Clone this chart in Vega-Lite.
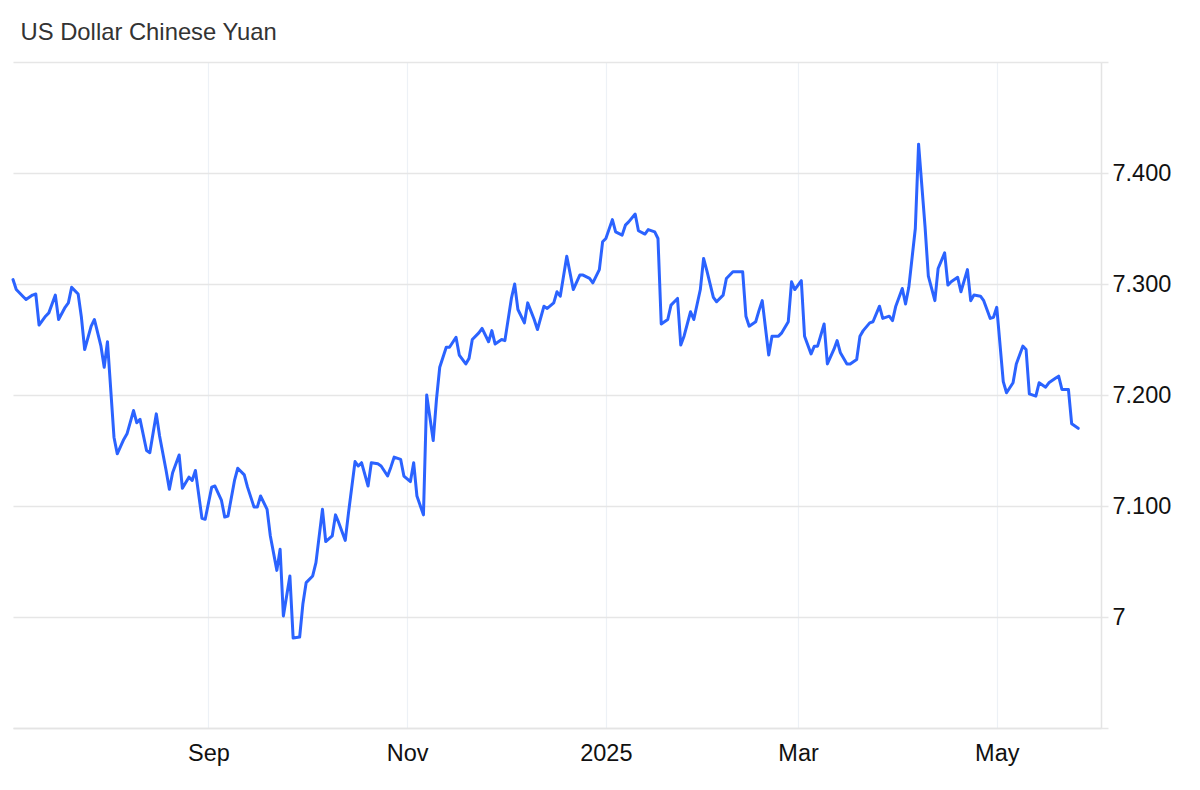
{
  "$schema": "https://vega.github.io/schema/vega-lite/v6.json",
  "width": 1088,
  "height": 666,
  "autosize": "none",
  "padding": {"top": 62, "left": 13, "right": 99, "bottom": 62},
  "background": "white",
  "title": {"text": "US Dollar Chinese Yuan", "anchor": "start", "dx": 9, "offset": 16, "fontSize": 23.8, "font": "Liberation Sans", "fontWeight": "normal", "color": "#333333"},
  "config": {"view": {"stroke": null}},
  "data": {"values": [
{"date":"2024-07-03","rate":7.304},{"date":"2024-07-04","rate":7.295},{"date":"2024-07-06","rate":7.289},{"date":"2024-07-07","rate":7.286},{"date":"2024-07-09","rate":7.290},{"date":"2024-07-10","rate":7.291},{"date":"2024-07-11","rate":7.263},{"date":"2024-07-13","rate":7.271},{"date":"2024-07-14","rate":7.274},{"date":"2024-07-16","rate":7.290},{"date":"2024-07-17","rate":7.268},{"date":"2024-07-19","rate":7.279},{"date":"2024-07-20","rate":7.283},{"date":"2024-07-21","rate":7.297},{"date":"2024-07-23","rate":7.291},{"date":"2024-07-24","rate":7.270},{"date":"2024-07-25","rate":7.241},{"date":"2024-07-27","rate":7.262},{"date":"2024-07-28","rate":7.268},{"date":"2024-07-30","rate":7.244},{"date":"2024-07-31","rate":7.225},
{"date":"2024-08-01","rate":7.248},{"date":"2024-08-03","rate":7.162},{"date":"2024-08-04","rate":7.147},{"date":"2024-08-06","rate":7.160},{"date":"2024-08-07","rate":7.165},{"date":"2024-08-09","rate":7.186},{"date":"2024-08-10","rate":7.175},{"date":"2024-08-11","rate":7.178},{"date":"2024-08-13","rate":7.150},{"date":"2024-08-14","rate":7.148},{"date":"2024-08-16","rate":7.183},{"date":"2024-08-17","rate":7.163},{"date":"2024-08-19","rate":7.132},{"date":"2024-08-20","rate":7.115},{"date":"2024-08-21","rate":7.130},{"date":"2024-08-23","rate":7.146},{"date":"2024-08-24","rate":7.116},{"date":"2024-08-26","rate":7.126},{"date":"2024-08-27","rate":7.123},{"date":"2024-08-28","rate":7.132},{"date":"2024-08-30","rate":7.089},{"date":"2024-08-31","rate":7.088},
{"date":"2024-09-02","rate":7.117},{"date":"2024-09-03","rate":7.118},{"date":"2024-09-05","rate":7.105},{"date":"2024-09-06","rate":7.090},{"date":"2024-09-07","rate":7.091},{"date":"2024-09-09","rate":7.123},{"date":"2024-09-10","rate":7.134},{"date":"2024-09-12","rate":7.128},{"date":"2024-09-13","rate":7.117},{"date":"2024-09-15","rate":7.099},{"date":"2024-09-16","rate":7.099},{"date":"2024-09-17","rate":7.109},{"date":"2024-09-19","rate":7.097},{"date":"2024-09-20","rate":7.073},{"date":"2024-09-22","rate":7.042},{"date":"2024-09-23","rate":7.061},{"date":"2024-09-24","rate":7.001},{"date":"2024-09-26","rate":7.037},{"date":"2024-09-27","rate":6.981},{"date":"2024-09-29","rate":6.982},{"date":"2024-09-30","rate":7.012},
{"date":"2024-10-01","rate":7.031},{"date":"2024-10-03","rate":7.037},{"date":"2024-10-04","rate":7.049},{"date":"2024-10-06","rate":7.097},{"date":"2024-10-07","rate":7.068},{"date":"2024-10-09","rate":7.073},{"date":"2024-10-10","rate":7.092},{"date":"2024-10-11","rate":7.085},{"date":"2024-10-13","rate":7.069},{"date":"2024-10-14","rate":7.094},{"date":"2024-10-16","rate":7.140},{"date":"2024-10-17","rate":7.136},{"date":"2024-10-18","rate":7.139},{"date":"2024-10-20","rate":7.118},{"date":"2024-10-21","rate":7.139},{"date":"2024-10-23","rate":7.138},{"date":"2024-10-24","rate":7.136},{"date":"2024-10-26","rate":7.127},{"date":"2024-10-27","rate":7.135},{"date":"2024-10-28","rate":7.144},{"date":"2024-10-30","rate":7.142},{"date":"2024-10-31","rate":7.127},
{"date":"2024-11-02","rate":7.122},{"date":"2024-11-03","rate":7.139},{"date":"2024-11-04","rate":7.109},{"date":"2024-11-06","rate":7.092},{"date":"2024-11-07","rate":7.200},{"date":"2024-11-09","rate":7.159},{"date":"2024-11-10","rate":7.196},{"date":"2024-11-11","rate":7.225},{"date":"2024-11-13","rate":7.243},{"date":"2024-11-14","rate":7.243},{"date":"2024-11-16","rate":7.252},{"date":"2024-11-17","rate":7.236},{"date":"2024-11-19","rate":7.228},{"date":"2024-11-20","rate":7.233},{"date":"2024-11-21","rate":7.250},{"date":"2024-11-23","rate":7.256},{"date":"2024-11-24","rate":7.260},{"date":"2024-11-26","rate":7.248},{"date":"2024-11-27","rate":7.258},{"date":"2024-11-28","rate":7.246},{"date":"2024-11-30","rate":7.250},
{"date":"2024-12-01","rate":7.249},{"date":"2024-12-03","rate":7.287},{"date":"2024-12-04","rate":7.300},{"date":"2024-12-05","rate":7.277},{"date":"2024-12-07","rate":7.265},{"date":"2024-12-08","rate":7.283},{"date":"2024-12-10","rate":7.268},{"date":"2024-12-11","rate":7.259},{"date":"2024-12-13","rate":7.280},{"date":"2024-12-14","rate":7.278},{"date":"2024-12-16","rate":7.283},{"date":"2024-12-17","rate":7.293},{"date":"2024-12-18","rate":7.289},{"date":"2024-12-20","rate":7.325},{"date":"2024-12-21","rate":7.310},{"date":"2024-12-22","rate":7.295},{"date":"2024-12-24","rate":7.308},{"date":"2024-12-25","rate":7.308},{"date":"2024-12-27","rate":7.305},{"date":"2024-12-28","rate":7.301},{"date":"2024-12-30","rate":7.313},{"date":"2024-12-31","rate":7.338},
{"date":"2025-01-01","rate":7.341},{"date":"2025-01-03","rate":7.358},{"date":"2025-01-04","rate":7.347},{"date":"2025-01-06","rate":7.344},{"date":"2025-01-07","rate":7.353},{"date":"2025-01-08","rate":7.356},{"date":"2025-01-10","rate":7.363},{"date":"2025-01-11","rate":7.348},{"date":"2025-01-13","rate":7.345},{"date":"2025-01-14","rate":7.349},{"date":"2025-01-16","rate":7.347},{"date":"2025-01-17","rate":7.341},{"date":"2025-01-18","rate":7.264},{"date":"2025-01-20","rate":7.268},{"date":"2025-01-21","rate":7.281},{"date":"2025-01-23","rate":7.287},{"date":"2025-01-24","rate":7.245},{"date":"2025-01-25","rate":7.253},{"date":"2025-01-27","rate":7.275},{"date":"2025-01-28","rate":7.268},{"date":"2025-01-30","rate":7.295},{"date":"2025-01-31","rate":7.323},
{"date":"2025-02-01","rate":7.312},{"date":"2025-02-03","rate":7.288},{"date":"2025-02-04","rate":7.284},{"date":"2025-02-06","rate":7.290},{"date":"2025-02-07","rate":7.305},{"date":"2025-02-09","rate":7.311},{"date":"2025-02-10","rate":7.311},{"date":"2025-02-12","rate":7.311},{"date":"2025-02-13","rate":7.271},{"date":"2025-02-14","rate":7.262},{"date":"2025-02-16","rate":7.266},{"date":"2025-02-17","rate":7.276},{"date":"2025-02-18","rate":7.285},{"date":"2025-02-20","rate":7.236},{"date":"2025-02-21","rate":7.253},{"date":"2025-02-23","rate":7.253},{"date":"2025-02-24","rate":7.256},{"date":"2025-02-26","rate":7.266},{"date":"2025-02-27","rate":7.302},{"date":"2025-02-28","rate":7.295},
{"date":"2025-03-02","rate":7.303},{"date":"2025-03-03","rate":7.253},{"date":"2025-03-05","rate":7.237},{"date":"2025-03-06","rate":7.244},{"date":"2025-03-07","rate":7.244},{"date":"2025-03-09","rate":7.264},{"date":"2025-03-10","rate":7.228},{"date":"2025-03-12","rate":7.241},{"date":"2025-03-13","rate":7.249},{"date":"2025-03-14","rate":7.238},{"date":"2025-03-16","rate":7.228},{"date":"2025-03-17","rate":7.228},{"date":"2025-03-19","rate":7.232},{"date":"2025-03-20","rate":7.253},{"date":"2025-03-21","rate":7.258},{"date":"2025-03-23","rate":7.265},{"date":"2025-03-24","rate":7.266},{"date":"2025-03-26","rate":7.280},{"date":"2025-03-27","rate":7.269},{"date":"2025-03-29","rate":7.271},{"date":"2025-03-30","rate":7.267},{"date":"2025-03-31","rate":7.280},
{"date":"2025-04-02","rate":7.296},{"date":"2025-04-03","rate":7.282},{"date":"2025-04-04","rate":7.297},{"date":"2025-04-06","rate":7.350},{"date":"2025-04-07","rate":7.426},{"date":"2025-04-09","rate":7.351},{"date":"2025-04-10","rate":7.307},{"date":"2025-04-12","rate":7.285},{"date":"2025-04-13","rate":7.314},{"date":"2025-04-15","rate":7.328},{"date":"2025-04-16","rate":7.299},{"date":"2025-04-17","rate":7.302},{"date":"2025-04-19","rate":7.306},{"date":"2025-04-20","rate":7.293},{"date":"2025-04-22","rate":7.313},{"date":"2025-04-23","rate":7.285},{"date":"2025-04-24","rate":7.290},{"date":"2025-04-26","rate":7.289},{"date":"2025-04-27","rate":7.285},{"date":"2025-04-29","rate":7.269},{"date":"2025-04-30","rate":7.270},
{"date":"2025-05-01","rate":7.279},{"date":"2025-05-03","rate":7.212},{"date":"2025-05-04","rate":7.202},{"date":"2025-05-06","rate":7.211},{"date":"2025-05-07","rate":7.228},{"date":"2025-05-09","rate":7.244},{"date":"2025-05-10","rate":7.241},{"date":"2025-05-11","rate":7.201},{"date":"2025-05-13","rate":7.199},{"date":"2025-05-14","rate":7.211},{"date":"2025-05-16","rate":7.207},{"date":"2025-05-17","rate":7.211},{"date":"2025-05-19","rate":7.215},{"date":"2025-05-20","rate":7.217},{"date":"2025-05-21","rate":7.205},{"date":"2025-05-23","rate":7.205},{"date":"2025-05-24","rate":7.174},{"date":"2025-05-26","rate":7.170}
  ]},
  "mark": {"type": "line", "color": "#2b63ff", "strokeWidth": 3, "strokeJoin": "round", "strokeCap": "round"},
  "encoding": {
    "x": {
      "field": "date", "type": "temporal",
      "scale": {"type": "utc", "domain": [{"year": 2024, "month": 7, "date": 3, "utc": true}, {"year": 2025, "month": 6, "date": 2, "utc": true}]},
      "axis": {
        "title": null,
        "values": [{"year": 2024, "month": 9, "date": 1, "utc": true}, {"year": 2024, "month": 11, "date": 1, "utc": true}, {"year": 2025, "month": 1, "date": 1, "utc": true}, {"year": 2025, "month": 3, "date": 1, "utc": true}, {"year": 2025, "month": 5, "date": 1, "utc": true}],
        "labelExpr": "utcmonth(datum.value) == 0 ? utcFormat(datum.value, '%Y') : utcFormat(datum.value, '%b')",
        "grid": true, "gridColor": "#edf1f6", "gridWidth": 1.2,
        "ticks": false, "domain": true, "domainColor": "#e4e4e4", "domainWidth": 1.5,
        "labelFont": "Liberation Sans", "labelFontSize": 23.5, "labelColor": "#111111", "labelPadding": 13, "labelFlush": false
      }
    },
    "y": {
      "field": "rate", "type": "quantitative",
      "scale": {"domain": [6.9, 7.5], "nice": false, "zero": false},
      "axis": {
        "title": null, "orient": "right",
        "values": [6.9, 7.0, 7.1, 7.2, 7.3, 7.4, 7.5],
        "labelExpr": "datum.value < 6.95 || datum.value > 7.45 ? '' : (abs(datum.value - 7) < 0.001 ? '7' : format(datum.value, '.3f'))",
        "grid": true, "gridColor": "#e6e6e6", "gridWidth": 1.5,
        "ticks": true, "tickColor": "#e6e6e6", "tickSize": 7, "tickWidth": 1.5,
        "domain": true, "domainColor": "#e4e4e4", "domainWidth": 1.5,
        "labelFont": "Liberation Sans", "labelFontSize": 23.5, "labelColor": "#111111", "labelPadding": 4, "labelFlush": false
      }
    }
  }
}
